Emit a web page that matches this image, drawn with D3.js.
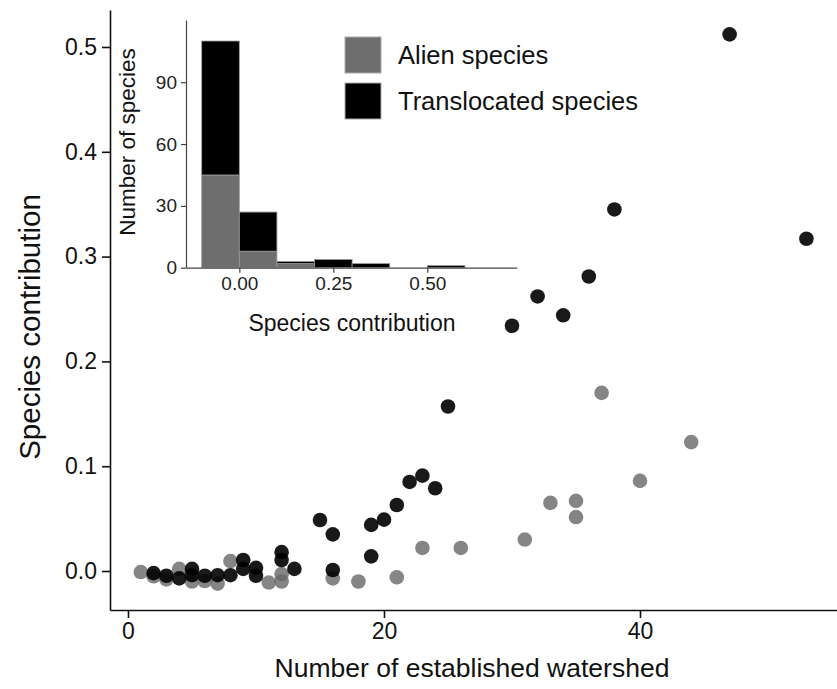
<!DOCTYPE html>
<html>
<head>
<meta charset="utf-8">
<script src="https://cdn.jsdelivr.net/npm/d3@7"></script>
<style>
  body { margin: 0; background: #fff; }
  svg text { font-family: "Liberation Sans", Arial, sans-serif; fill: #111; }
</style>
</head>
<body>
<svg width="837" height="689"></svg>
<script>
// scatter: alien species
var alienX = [1, 2, 3, 4, 5, 6, 7, 8, 11, 12, 12, 16, 18, 21, 23, 26, 31, 33, 35, 35, 37, 40, 44];
var alienY = [-0.001, -0.005, -0.008, 0.002, -0.010, -0.0095, -0.012, 0.0095, -0.011, -0.003, -0.010,
  -0.007, -0.010, -0.006, 0.022, 0.022, 0.030, 0.065, 0.067, 0.0515, 0.170, 0.086, 0.123];

// scatter: translocated species
var transX = [2, 3, 4, 5, 5, 6, 7, 8, 9, 9, 10, 10, 12, 12, 13, 15, 16, 16, 19, 19, 20, 21, 22, 23, 24,
  25, 30, 32, 34, 36, 38, 47, 53];
var transY = [-0.002, -0.0045, -0.007, 0.002, -0.004, -0.0045, -0.004, -0.004, 0.0105, 0.002, 0.003, -0.0045,
  0.018, 0.0105, 0.002, 0.0487, 0.035, 0.001, 0.044, 0.014, 0.049, 0.063, 0.085, 0.091, 0.079,
  0.157, 0.234, 0.262, 0.244, 0.281, 0.345, 0.512, 0.317];

// inset histogram (bins of width 0.1)
var binStart = [-0.1, 0.0, 0.1, 0.2, 0.3, 0.4, 0.5, 0.6];
var alienCount = [45, 8, 2, 0, 0, 0, 0, 0];
var transCount = [65, 19, 1, 4, 2, 0, 1, 0];
var binWidth = 0.1;

var xTicks = [0, 20, 40];
var yTicks = [0, 0.1, 0.2, 0.3, 0.4, 0.5];
var insetXTicks = [0, 0.25, 0.5];
var insetYTicks = [0, 30, 60, 90];
var legendLabels = ["Alien species", "Translocated species"];

var svg = d3.select("svg");

// Main scales
var x = d3.scaleLinear().domain([-1.406, 55.39]).range([110, 837]);
var y = d3.scaleLinear().domain([-0.0372, 0.5353]).range([610, 10]);

// Main points
var alien = alienX.map(function (d, i) { return { x: d, y: alienY[i] }; });
var trans = transX.map(function (d, i) { return { x: d, y: transY[i] }; });

svg.append("g")
  .selectAll("circle")
  .data(alien)
  .enter().append("circle")
  .attr("cx", function (d) { return x(d.x); })
  .attr("cy", function (d) { return y(d.y); })
  .attr("r", 7.3)
  .style("fill", "#666")
  .style("fill-opacity", 0.8);

svg.append("g")
  .selectAll("circle")
  .data(trans)
  .enter().append("circle")
  .attr("cx", function (d) { return x(d.x); })
  .attr("cy", function (d) { return y(d.y); })
  .attr("r", 7.3)
  .style("fill", "#000")
  .style("fill-opacity", 0.9);

// Main axes
var xAxis = svg.append("g")
  .attr("transform", "translate(0,610)")
  .call(d3.axisBottom(x).tickValues(xTicks).tickSize(8).tickSizeOuter(0).tickPadding(5));

var yAxis = svg.append("g")
  .attr("transform", "translate(110,0)")
  .call(d3.axisLeft(y).tickValues(yTicks).tickFormat(d3.format(".1f")).tickSize(8).tickSizeOuter(0).tickPadding(5));

[xAxis, yAxis].forEach(function (g) {
  g.selectAll("path, line").style("stroke", "#111").style("stroke-width", 1.6);
  g.selectAll("text").style("font-size", "23px").style("fill", "#111");
});

svg.append("text")
  .attr("x", 472)
  .attr("y", 677)
  .attr("text-anchor", "middle")
  .style("font-size", "26.5px")
  .text("Number of established watershed");

svg.append("text")
  .attr("transform", "translate(40,327) rotate(-90)")
  .attr("text-anchor", "middle")
  .style("font-size", "29.5px")
  .text("Species contribution");

// Inset histogram
var ix = d3.scaleLinear().domain([-0.1418, 0.7377]).range([186, 516.7]);
var iy = d3.scaleLinear().domain([0, 120.2]).range([267.7, 20]);

var bins = binStart.map(function (d, i) {
  return { x0: d, x1: d + binWidth, alien: alienCount[i], trans: transCount[i] };
});

var inset = svg.append("g");

inset.selectAll("rect.alien")
  .data(bins.filter(function (d) { return d.alien > 0; }))
  .enter().append("rect")
  .attr("class", "alien")
  .attr("x", function (d) { return ix(d.x0); })
  .attr("width", function (d) { return ix(d.x1) - ix(d.x0); })
  .attr("y", function (d) { return iy(d.alien); })
  .attr("height", function (d) { return iy(0) - iy(d.alien); })
  .style("fill", "#6e6e6e")
  .style("stroke", "#9a9a9a")
  .style("stroke-width", 0.8);

inset.selectAll("rect.trans")
  .data(bins.filter(function (d) { return d.trans > 0; }))
  .enter().append("rect")
  .attr("class", "trans")
  .attr("x", function (d) { return ix(d.x0); })
  .attr("width", function (d) { return ix(d.x1) - ix(d.x0); })
  .attr("y", function (d) { return iy(d.alien + d.trans); })
  .attr("height", function (d) { return iy(d.alien) - iy(d.alien + d.trans); })
  .style("fill", "#000")
  .style("stroke", "#9a9a9a")
  .style("stroke-width", 0.8);

var ixAxis = inset.append("g")
  .attr("transform", "translate(0,267.7)")
  .call(d3.axisBottom(ix).tickValues(insetXTicks).tickFormat(d3.format(".2f")).tickSize(5).tickSizeOuter(0).tickPadding(4));

var iyAxis = inset.append("g")
  .attr("transform", "translate(186,0)")
  .call(d3.axisLeft(iy).tickValues(insetYTicks).tickSize(5).tickSizeOuter(0).tickPadding(4));

[ixAxis, iyAxis].forEach(function (g) {
  g.selectAll("path, line").style("stroke", "#444").style("stroke-width", 1.2);
  g.selectAll("text").style("font-size", "19px").style("fill", "#222");
});

inset.append("text")
  .attr("x", 352)
  .attr("y", 331)
  .attr("text-anchor", "middle")
  .style("font-size", "23px")
  .text("Species contribution");

inset.append("text")
  .attr("transform", "translate(135,142) rotate(-90)")
  .attr("text-anchor", "middle")
  .style("font-size", "22.5px")
  .text("Number of species");

// Legend
var legend = svg.append("g").attr("transform", "translate(345,37)");
var legendColors = ["#6e6e6e", "#000"];

legend.selectAll("rect")
  .data(legendLabels)
  .enter().append("rect")
  .attr("x", 0)
  .attr("y", function (d, i) { return i * 46; })
  .attr("width", 36)
  .attr("height", 36)
  .style("fill", function (d, i) { return legendColors[i]; })
  .style("stroke", "#aaa")
  .style("stroke-width", 1);

legend.selectAll("text")
  .data(legendLabels)
  .enter().append("text")
  .attr("x", 53)
  .attr("y", function (d, i) { return i * 46 + 27; })
  .style("font-size", "25.5px")
  .text(function (d) { return d; });
</script>
</body>
</html>
